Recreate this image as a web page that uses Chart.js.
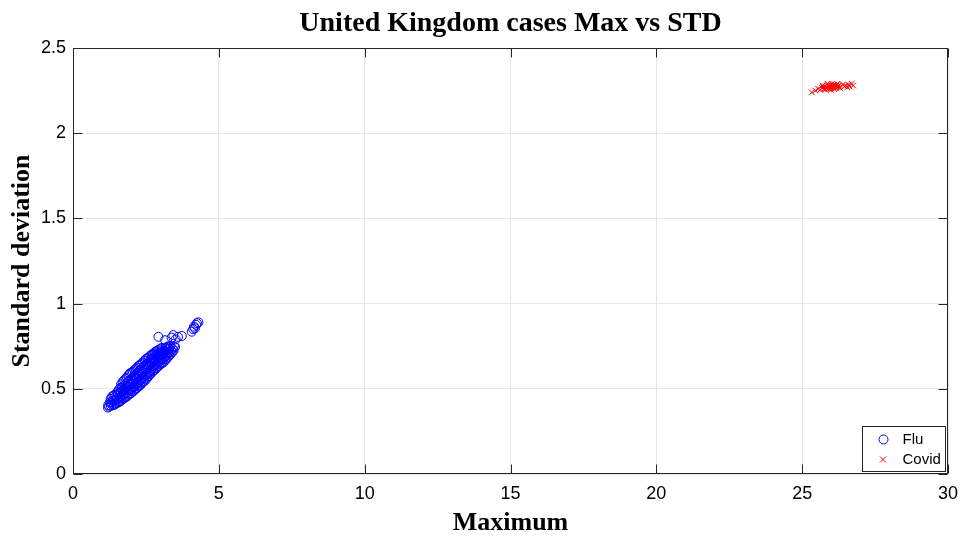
<!DOCTYPE html>
<html>
<head>
<meta charset="utf-8">
<script src="https://cdn.jsdelivr.net/npm/chart.js@4.4.1/dist/chart.umd.min.js"></script>
<style>
  html, body { margin: 0; padding: 0; background: #fff; }
  #wrap { width: 960px; height: 536px; }
</style>
</head>
<body>
<div id="wrap"><canvas id="grafico" width="960" height="536"></canvas></div>
<script>
// Dados (Maximum, Standard deviation)
const chartTitle = 'United Kingdom cases Max vs STD';
const xLabel = 'Maximum';
const yLabel = 'Standard deviation';
const seriesNames = ['Flu', 'Covid'];
const xTicks = [0, 5, 10, 15, 20, 25, 30];
const yTicks = [0, 0.5, 1, 1.5, 2, 2.5];

const fluPoints = [
  [1.20,0.39],[1.21,0.405],[1.24,0.395],[1.26,0.42],
  [1.30,0.40],[1.31,0.42],[1.29,0.44],[1.35,0.405],[1.36,0.43],[1.34,0.455],
  [1.40,0.405],[1.41,0.43],[1.39,0.46],[1.45,0.41],[1.46,0.435],[1.44,0.465],
  [1.50,0.415],[1.51,0.44],[1.49,0.46],[1.52,0.48],[1.55,0.42],[1.56,0.445],[1.54,0.47],[1.57,0.495],
  [1.60,0.425],[1.61,0.45],[1.59,0.475],[1.62,0.505],
  [1.65,0.43],[1.66,0.455],[1.64,0.48],[1.67,0.505],[1.65,0.525],
  [1.70,0.44],[1.71,0.465],[1.69,0.49],[1.72,0.515],[1.70,0.54],
  [1.75,0.445],[1.76,0.47],[1.74,0.495],[1.77,0.52],[1.75,0.55],
  [1.80,0.45],[1.81,0.475],[1.79,0.50],[1.82,0.53],[1.80,0.56],
  [1.85,0.455],[1.86,0.48],[1.84,0.51],[1.87,0.54],[1.85,0.565],
  [1.90,0.465],[1.91,0.49],[1.89,0.515],[1.92,0.545],[1.90,0.58],
  [1.95,0.47],[1.96,0.495],[1.94,0.525],[1.97,0.555],[1.95,0.59],
  [2.00,0.475],[2.01,0.50],[1.99,0.53],[2.02,0.56],[2.00,0.595],
  [2.05,0.485],[2.06,0.51],[2.04,0.54],[2.07,0.57],[2.05,0.60],
  [2.10,0.49],[2.11,0.515],[2.09,0.545],[2.12,0.58],[2.10,0.61],
  [2.15,0.50],[2.16,0.525],[2.14,0.555],[2.17,0.585],[2.15,0.615],
  [2.20,0.505],[2.21,0.53],[2.19,0.56],[2.22,0.595],[2.20,0.625],
  [2.25,0.515],[2.26,0.54],[2.24,0.57],[2.27,0.605],[2.25,0.635],
  [2.30,0.52],[2.31,0.55],[2.29,0.58],[2.32,0.61],[2.30,0.64],
  [2.35,0.53],[2.36,0.555],[2.34,0.59],[2.37,0.62],[2.35,0.65],
  [2.40,0.54],[2.41,0.565],[2.39,0.595],[2.42,0.63],[2.40,0.655],
  [2.45,0.545],[2.46,0.575],[2.44,0.605],[2.47,0.635],[2.45,0.665],
  [2.50,0.555],[2.51,0.58],[2.49,0.615],[2.52,0.645],[2.50,0.675],
  [2.55,0.565],[2.56,0.59],[2.54,0.62],[2.57,0.65],[2.55,0.68],
  [2.60,0.575],[2.61,0.60],[2.59,0.63],[2.62,0.66],[2.60,0.685],
  [2.65,0.585],[2.66,0.61],[2.64,0.64],[2.67,0.67],[2.65,0.695],
  [2.70,0.595],[2.71,0.62],[2.69,0.65],[2.72,0.675],[2.70,0.70],
  [2.75,0.605],[2.76,0.63],[2.74,0.66],[2.77,0.685],[2.75,0.705],
  [2.80,0.61],[2.81,0.64],[2.79,0.665],[2.82,0.69],[2.80,0.715],
  [2.85,0.62],[2.86,0.645],[2.84,0.675],[2.87,0.70],[2.85,0.72],
  [2.90,0.63],[2.91,0.655],[2.89,0.68],[2.92,0.705],[2.90,0.725],
  [2.95,0.635],[2.96,0.66],[2.94,0.69],[2.97,0.71],[2.95,0.73],
  [3.00,0.645],[3.01,0.67],[2.99,0.695],[3.02,0.715],[3.00,0.735],
  [3.05,0.65],[3.06,0.675],[3.04,0.70],[3.07,0.72],[3.05,0.74],
  [3.10,0.655],[3.11,0.68],[3.09,0.705],[3.12,0.725],
  [3.15,0.665],[3.16,0.69],[3.14,0.715],[3.17,0.74],
  [3.20,0.675],[3.21,0.70],[3.19,0.72],[3.22,0.745],
  [3.25,0.685],[3.26,0.71],[3.24,0.73],[3.27,0.75],
  [3.30,0.695],[3.31,0.715],[3.29,0.735],[3.35,0.705],[3.36,0.725],[3.34,0.75],
  [3.40,0.715],[3.41,0.735],[3.45,0.725],[3.46,0.75],[3.50,0.745],
  [2.93,0.805],[3.16,0.785],[3.38,0.80],[3.44,0.815],[3.52,0.79],[3.60,0.805],[3.73,0.81],
  [4.07,0.835],[4.12,0.85],[4.15,0.865],[4.18,0.855],[4.22,0.875],[4.25,0.885],[4.30,0.89]
];

const covidPoints = [
  [25.33,2.24],[25.45,2.25],[25.55,2.26],[25.62,2.255],[25.68,2.265],[25.72,2.27],[25.75,2.26],
  [25.78,2.275],[25.82,2.265],[25.85,2.27],[25.88,2.28],[25.90,2.26],[25.92,2.275],[25.95,2.27],
  [25.97,2.285],[26.00,2.265],[26.02,2.275],[26.05,2.28],[26.07,2.27],[26.10,2.285],[26.12,2.275],
  [26.15,2.265],[26.18,2.28],[26.20,2.29],[26.22,2.27],[25.80,2.255],[25.87,2.29],[26.03,2.29],
  [25.98,2.255],[26.10,2.26],[26.25,2.28],[26.28,2.27],[26.45,2.275],[26.50,2.28],[26.55,2.27],
  [26.60,2.285],[26.62,2.275],[26.70,2.29],[26.75,2.28],[26.40,2.285],[25.70,2.28],[26.30,2.265]
];

const corEixo = '#262626';
const corFlu = '#0000ff';
const corCovid = '#ff0000';

// Moldura, ticks para dentro e legenda no canto inferior direito
const molduraPlugin = {
  id: 'moldura',
  beforeDatasetsDraw(chart) {
    const { ctx, chartArea: a, scales } = chart;
    const L = Math.round(a.left) + 0.5, R = Math.round(a.right) - 0.5;
    const T = Math.round(a.top) + 0.5, B = Math.round(a.bottom) - 0.5;
    const tick = 9;
    ctx.save();
    ctx.strokeStyle = corEixo;
    ctx.lineWidth = 1;
    ctx.strokeRect(L, T, R - L, B - T);
    ctx.beginPath();
    xTicks.forEach(v => {
      const px = Math.round(scales.x.getPixelForValue(v)) + 0.5;
      ctx.moveTo(px, B); ctx.lineTo(px, B - tick);
      ctx.moveTo(px, T); ctx.lineTo(px, T + tick);
    });
    yTicks.forEach(v => {
      const py = Math.round(scales.y.getPixelForValue(v)) + 0.5;
      ctx.moveTo(L, py); ctx.lineTo(L + tick, py);
      ctx.moveTo(R, py); ctx.lineTo(R - tick, py);
    });
    ctx.stroke();
    ctx.restore();
  },
  afterDraw(chart) {
    const { ctx, chartArea: a } = chart;
    const w = 83, h = 45;
    const x0 = Math.round(a.right) - 3 - w + 0.5;
    const y0 = Math.round(a.bottom) - 3 - h + 0.5;
    ctx.save();
    ctx.fillStyle = '#fff';
    ctx.fillRect(x0, y0, w, h);
    ctx.strokeStyle = corEixo;
    ctx.lineWidth = 1;
    ctx.strokeRect(x0, y0, w, h);

    // Flu
    ctx.strokeStyle = corFlu;
    ctx.beginPath();
    ctx.arc(x0 + 21, y0 + 13, 4.5, 0, Math.PI * 2);
    ctx.stroke();
    // Covid
    ctx.strokeStyle = corCovid;
    ctx.beginPath();
    const cx = x0 + 20.5, cy = y0 + 33;
    ctx.moveTo(cx - 3, cy - 3); ctx.lineTo(cx + 3, cy + 3);
    ctx.moveTo(cx - 3, cy + 3); ctx.lineTo(cx + 3, cy - 3);
    ctx.stroke();

    ctx.fillStyle = '#000';
    ctx.font = '15px "Liberation Sans", Arial, sans-serif';
    ctx.textBaseline = 'middle';
    ctx.textAlign = 'left';
    ctx.fillText(chart.data.datasets[0].label, x0 + 40, y0 + 13);
    ctx.fillText(chart.data.datasets[1].label, x0 + 40, y0 + 33);
    ctx.restore();
  }
};

const fonteTick = { family: '"Liberation Sans", Arial, sans-serif', size: 18 };
const fonteTitulo = { family: '"Liberation Serif", "Times New Roman", serif', size: 26, weight: 'bold', lineHeight: 1 };

new Chart(document.getElementById('grafico'), {
  type: 'scatter',
  data: {
    datasets: [{
      label: seriesNames[0],
      data: fluPoints.map(p => ({ x: p[0], y: p[1] })),
      pointStyle: 'circle',
      pointRadius: 4.5,
      borderWidth: 1,
      borderColor: corFlu,
      backgroundColor: 'rgba(0,0,0,0)'
    }, {
      label: seriesNames[1],
      data: covidPoints.map(p => ({ x: p[0], y: p[1] })),
      pointStyle: 'crossRot',
      pointRadius: 4,
      borderWidth: 1,
      borderColor: corCovid,
      backgroundColor: corCovid
    }]
  },
  options: {
    responsive: false,
    animation: false,
    events: [],
    layout: { padding: { left: 0, right: 12, top: 0, bottom: 0 } },
    plugins: {
      legend: { display: false },
      tooltip: { enabled: false },
      title: {
        display: true,
        fullSize: false,
        text: chartTitle,
        color: '#000',
        font: { family: '"Liberation Serif", "Times New Roman", serif', size: 28, weight: 'bold' },
        padding: { top: 7, bottom: 7.4 }
      }
    },
    scales: {
      x: {
        type: 'linear',
        min: 0, max: 30,
        afterFit: s => { s.height = 62; s.paddingLeft = 0; s.paddingRight = 0; },
        ticks: { stepSize: 5, color: '#000', font: fonteTick, padding: 9, maxRotation: 0 },
        grid: { color: '#e6e6e6', drawTicks: false },
        border: { display: false },
        title: { display: true, text: xLabel, color: '#000', font: fonteTitulo, padding: { top: 0, bottom: 0 } }
      },
      y: {
        type: 'linear',
        min: 0, max: 2.5,
        afterFit: s => { s.width = 73; s.paddingTop = 0; s.paddingBottom = 0; },
        ticks: { stepSize: 0.5, color: '#000', font: fonteTick, padding: 7, callback: v => String(v) },
        grid: { color: '#e6e6e6', drawTicks: false },
        border: { display: false },
        title: { display: true, text: yLabel, color: '#000', font: fonteTitulo, padding: { top: 9, bottom: 0 } }
      }
    }
  },
  plugins: [molduraPlugin]
});
</script>
</body>
</html>
